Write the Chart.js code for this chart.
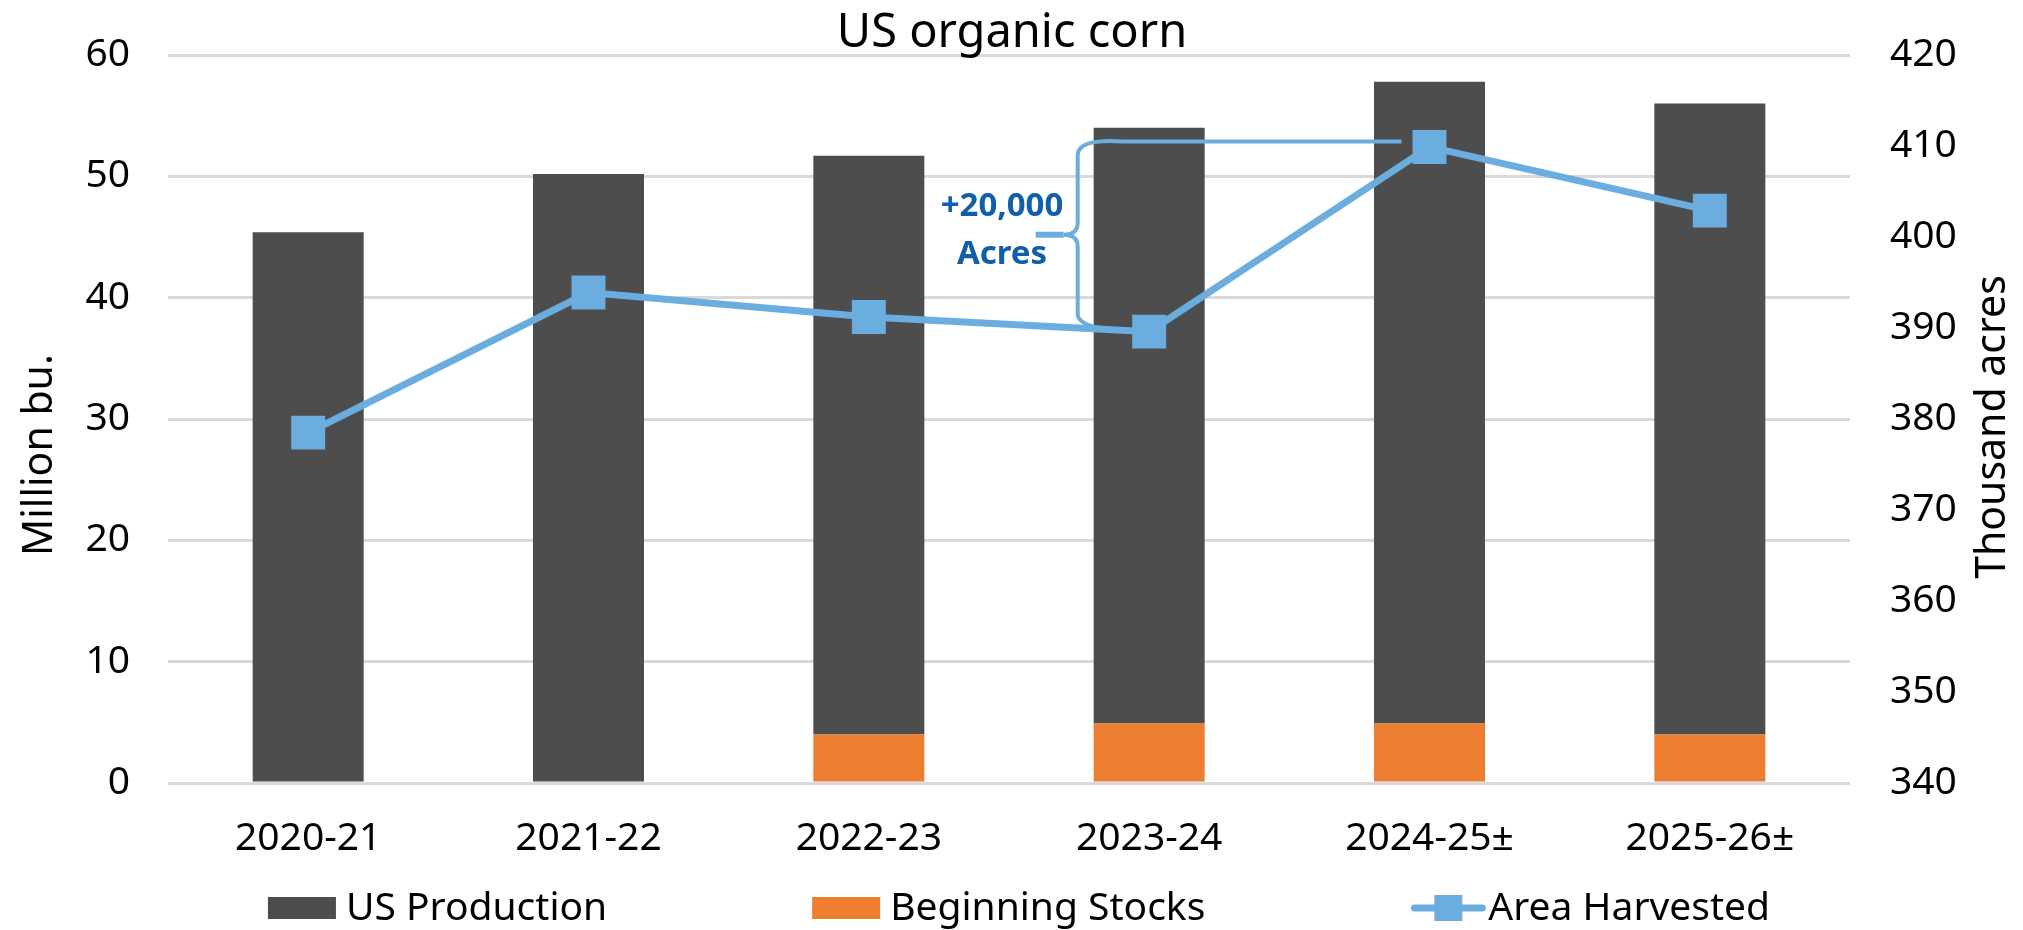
<!DOCTYPE html>
<html>
<head>
<meta charset="utf-8">
<title>US organic corn</title>
<script src="https://cdn.jsdelivr.net/npm/chart.js@4.4.0/dist/chart.umd.min.js"></script>
<style>
  html, body { margin: 0; padding: 0; background: #fff; }
  #wrap { width: 2023px; height: 930px; }
</style>
</head>
<body>
<div id="wrap"><canvas id="cornChart" width="2023" height="930"></canvas></div>
<script>
// --- values ---
const seasons = ['2020-21', '2021-22', '2022-23', '2023-24', '2024-25±', '2025-26±'];
const beginningStocks = [0, 0, 4.0, 4.9, 4.9, 4.0];          // million bu.
const usProduction = [45.4, 50.2, 47.7, 49.1, 52.9, 52.0];     // million bu.
const areaHarvested = [378.5, 393.9, 391.2, 389.6, 409.9, 402.9]; // thousand acres
const leftTicks = [0, 10, 20, 30, 40, 50, 60];
const rightTicks = [340, 350, 360, 370, 380, 390, 400, 410, 420];
const braceLabel = ['+20,000', 'Acres'];
const braceRange = [390, 410.5]; // thousand acres covered by the brace

const DARK = '#4D4D4D';
const ORANGE = '#ED7D31';
const BLUE = '#6CADDF';
const NOTE_BLUE = '#0F5FAA';
const GRID = '#D9D9D9';
const FONT = '"Noto Sans", "DejaVu Sans", sans-serif';

// title + axis titles (right one reads bottom-to-top, which the scale title can't do)
const textPlugin = {
    id: 'chartText',
    afterDraw(chart) {
        const ctx = chart.ctx;
        const area = chart.chartArea;
        ctx.save();
        ctx.fillStyle = '#000';
        ctx.textAlign = 'center';
        ctx.textBaseline = 'alphabetic';
        ctx.font = '47px ' + FONT;
        ctx.fillText('US organic corn', (area.left + area.right) / 2 + 3, area.top - 8);

        ctx.font = '41px ' + FONT;
        ctx.save();
        ctx.translate(52, 455);
        ctx.rotate(-Math.PI / 2);
        ctx.fillText('Million bu.', 0, 0);
        ctx.restore();

        ctx.save();
        ctx.translate(2005, 427);
        ctx.rotate(-Math.PI / 2);
        ctx.fillText('Thousand acres', 0, 0);
        ctx.restore();
        ctx.restore();
    }
};

// the "+20,000 Acres" brace, drawn after the bars but under the line
const bracePlugin = {
    id: 'brace',
    beforeDatasetDraw(chart, args) {
        if (args.index !== 2) return;
        const ctx = chart.ctx;
        const x = chart.scales.x;
        const y1 = chart.scales.y1;
        const step = x.getPixelForValue(1) - x.getPixelForValue(0);
        const cx = x.getPixelForValue(3);
        const bx = cx - 0.255 * step;
        const yTop = y1.getPixelForValue(braceRange[1]);
        const yBot = y1.getPixelForValue(braceRange[0]);
        const yMid = (yTop + yBot) / 2;
        const xEnd = x.getPixelForValue(4) - 0.1 * step;

        ctx.save();
        ctx.strokeStyle = BLUE;
        ctx.lineWidth = 4;
        ctx.lineCap = 'butt';
        ctx.beginPath();
        ctx.moveTo(xEnd, yTop);
        ctx.lineTo(bx + 0.16 * step, yTop);
        ctx.quadraticCurveTo(bx, yTop - 3, bx, yTop + 14);
        ctx.lineTo(bx, yMid - 12);
        ctx.quadraticCurveTo(bx, yMid, bx - 14, yMid);
        ctx.moveTo(bx, yMid + 12);
        ctx.quadraticCurveTo(bx, yMid, bx - 14, yMid);
        ctx.moveTo(bx, yMid + 12);
        ctx.lineTo(bx, yBot - 14);
        ctx.quadraticCurveTo(bx, yBot, bx + 0.16 * step, yBot + 2);
        ctx.stroke();
        ctx.lineWidth = 6;
        ctx.beginPath();
        ctx.moveTo(bx - 14, yMid);
        ctx.lineTo(bx - 42, yMid);
        ctx.stroke();

        ctx.fillStyle = NOTE_BLUE;
        ctx.font = 'bold 33px ' + FONT;
        ctx.textAlign = 'center';
        ctx.textBaseline = 'middle';
        const tx = cx - 0.525 * step;
        ctx.fillText(braceLabel[0], tx, yMid - 28);
        ctx.fillText(braceLabel[1], tx, yMid + 20);
        ctx.restore();
    }
};

// legend drawn by hand so the wide item spacing doesn't blow up its height
const legendPlugin = {
    id: 'wideLegend',
    afterDraw(chart) {
        const ctx = chart.ctx;
        const order = [1, 0, 2]; // US Production, Beginning Stocks, Area Harvested
        const swatchW = 68, textGap = 10, itemGap = 205, y = 908;
        ctx.save();
        ctx.font = '39px ' + FONT;
        ctx.textBaseline = 'middle';
        ctx.textAlign = 'left';
        const widths = order.map(i => swatchW + textGap + ctx.measureText(chart.data.datasets[i].label).width);
        const total = widths.reduce((a, b) => a + b, 0) + itemGap * (order.length - 1);
        let x = 1019 - total / 2;
        order.forEach((i, k) => {
            const ds = chart.data.datasets[i];
            if (ds.type === 'line') {
                ctx.strokeStyle = ds.borderColor;
                ctx.lineWidth = 7;
                ctx.lineCap = 'round';
                ctx.beginPath();
                ctx.moveTo(x + 4, y);
                ctx.lineTo(x + swatchW + 4, y);
                ctx.stroke();
                ctx.fillStyle = ds.borderColor;
                ctx.fillRect(x + swatchW / 2 + 4 - 14, y - 13, 28, 26);
            } else {
                ctx.fillStyle = ds.backgroundColor;
                ctx.fillRect(x, y - 11, swatchW, 22);
            }
            ctx.fillStyle = '#000';
            ctx.fillText(ds.label, x + swatchW + textGap, y + 1);
            x += widths[k] + itemGap;
        });
        ctx.restore();
    }
};

// fixed axis widths; drop the vertical label padding so layout.padding sets the top
function fixAxis(width) {
    return s => {
        s.width = width;
        s.paddingTop = 0;
        s.paddingBottom = 0;
    };
}

const ctx = document.getElementById('cornChart').getContext('2d');
new Chart(ctx, {
    data: {
        labels: seasons,
        datasets: [
            {
                type: 'bar',
                label: 'Beginning Stocks',
                data: beginningStocks,
                backgroundColor: ORANGE,
                yAxisID: 'y',
                categoryPercentage: 1,
                barPercentage: 0.396
            },
            {
                type: 'bar',
                label: 'US Production',
                data: usProduction,
                backgroundColor: DARK,
                yAxisID: 'y',
                categoryPercentage: 1,
                barPercentage: 0.396
            },
            {
                type: 'line',
                label: 'Area Harvested',
                data: areaHarvested,
                yAxisID: 'y1',
                order: -1,
                borderColor: BLUE,
                backgroundColor: BLUE,
                borderWidth: 7,
                tension: 0,
                pointStyle: 'rect',
                pointRadius: 24,
                pointHoverRadius: 24,
                pointBackgroundColor: BLUE,
                pointBorderWidth: 0,
                clip: false
            }
        ]
    },
    options: {
        responsive: false,
        animation: false,
        devicePixelRatio: 1,
        layout: { padding: { top: 55, left: 0, right: 0, bottom: 0 } },
        plugins: {
            legend: { display: false },
            title: { display: false },
            tooltip: { enabled: false }
        },
        scales: {
            x: {
                stacked: true,
                grid: { display: false },
                border: { display: false },
                ticks: { color: '#000', font: { family: FONT, size: 39 }, padding: 24 },
                afterFit: s => { s.height = 147; }
            },
            y: {
                position: 'left',
                stacked: true,
                min: leftTicks[0],
                max: leftTicks[leftTicks.length - 1],
                afterBuildTicks: s => { s.ticks = leftTicks.map(v => ({ value: v })); },
                grid: { color: GRID, lineWidth: 3, drawTicks: false },
                border: { display: false },
                ticks: { color: '#000', font: { family: FONT, size: 39 }, padding: 38 },
                afterFit: fixAxis(168)
            },
            y1: {
                position: 'right',
                stacked: false,
                min: rightTicks[0],
                max: rightTicks[rightTicks.length - 1],
                afterBuildTicks: s => { s.ticks = rightTicks.map(v => ({ value: v })); },
                grid: { display: false, drawTicks: false },
                border: { display: false },
                ticks: { color: '#000', font: { family: FONT, size: 39 }, padding: 40 },
                afterFit: fixAxis(173)
            }
        }
    },
    plugins: [bracePlugin, textPlugin, legendPlugin]
});
</script>
</body>
</html>
